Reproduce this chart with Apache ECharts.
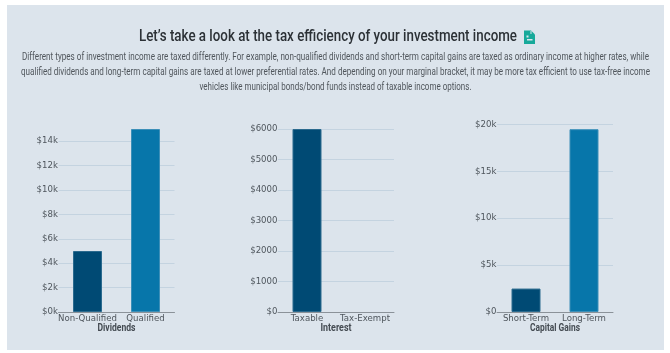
<!DOCTYPE html>
<html><head><meta charset="utf-8">
<style>html,body{margin:0;padding:0;background:#fff}#c{width:670px;height:353px}</style>
<script src="https://cdn.jsdelivr.net/npm/echarts@6/dist/echarts.min.js"></script>
</head><body><div id="c"></div>
<script>
const headline = "Let’s take a look at the tax efficiency of your investment income";
const paragraph = [
 "Different types of investment income are taxed differently. For example, non-qualified dividends and short-term capital gains are taxed as ordinary income at higher rates, while",
 "qualified dividends and long-term capital gains are taxed at lower preferential rates. And depending on your marginal bracket, it may be more tax efficient to use tax-free income",
 "vehicles like municipal bonds/bond funds instead of taxable income options."
];
const dividendCats = ["Non-Qualified","Qualified"];
const dividendVals = [5000,15000];
const interestCats = ["Taxable","Tax-Exempt"];
const interestVals = [6000,0];
const gainsCats = ["Short-Term","Long-Term"];
const gainsVals = [2500,19500];
const groupNames = ["Dividends","Interest","Capital Gains"];
const barColors = ["#004a74","#0776aa"];
const barBorders = ["#2b6a8e","#3c8fb8"];

const AXIS_FONT = "DejaVu Sans";
const panels = [
 {left:58.5, top:129, cats:dividendCats, vals:dividendVals, max:15000, interval:2000, hideMax:true,
  fmt:v=>"$"+(v/1000)+"k"},
 {left:278, top:129, cats:interestCats, vals:interestVals, max:6000, interval:1000, hideMax:false,
  fmt:v=>"$"+v},
 {left:497, top:124.5, cats:gainsCats, vals:gainsVals, max:20000, interval:5000, hideMax:false,
  fmt:v=>v===0?"$0":"$"+(v/1000)+"k"}
];
const ctx = document.createElement('canvas').getContext('2d');
function squeeze(text,font,target){ctx.font=font;return target/ctx.measureText(text).width;}
const nameWidths = [38,31,50];
const chart = echarts.init(document.getElementById('c'),null,{renderer:'canvas'});
chart.setOption({
 animation:false,
 backgroundColor:"#fff",
 grid:panels.map(p=>({left:p.left,top:p.top,width:116,height:312-p.top,containLabel:false})),
 xAxis:panels.map((p,i)=>({
  type:'category',gridIndex:i,data:p.cats,
  axisLine:{lineStyle:{color:'#8b9299',width:1}},axisTick:{show:false},
  axisLabel:{interval:0,margin:2,fontFamily:AXIS_FONT,fontSize:8.6,color:'#4f565d',hideOverlap:false}
 })),
 yAxis:panels.map((p,i)=>({
  type:'value',gridIndex:i,min:0,max:p.max,interval:p.interval,
  axisLine:{show:false},axisTick:{show:false},
  axisLabel:{margin:0.5,padding:[2,0,0,0],fontFamily:AXIS_FONT,fontSize:8.6,color:'#4f565d',formatter:p.fmt,showMaxLabel:!p.hideMax},
  splitLine:{show:true,showMaxLine:!p.hideMax,showMinLine:false,lineStyle:{color:'#c4d3e0',width:1}}
 })),
 series:panels.map((p,i)=>({
  type:'bar',xAxisIndex:i,yAxisIndex:i,barWidth:29,
  data:p.vals.map((v,k)=>({value:v,itemStyle:{color:barColors[k],borderColor:barBorders[k],borderWidth:v>0?1:0}}))
 })),
 graphic:[
  {type:'rect',z:-10,silent:true,shape:{x:7,y:5,width:657,height:345},style:{fill:'#dce4ec'}},
  {type:'text',x:328,y:37,z:10,scaleX:squeeze(headline,'500 17px Roboto',378),style:{text:headline,font:'500 17px Roboto',fill:'#2c3136',align:'center',verticalAlign:'middle'}},
  ...paragraph.map((t,i)=>({type:'text',x:335.5,y:57+15*i,z:10,scaleX:squeeze(t,'10.5px Roboto',[627,629,272][i]),style:{text:t,font:'10.5px Roboto',fill:'#50565c',align:'center',verticalAlign:'middle'}})),
  ...groupNames.map((t,i)=>({type:'text',x:panels[i].left+58,y:328.5,z:10,scaleX:squeeze(t,'bold 10.5px Roboto',nameWidths[i]),style:{text:t,font:'bold 10.5px Roboto',fill:'#444b52',align:'center',verticalAlign:'middle'}})),
  {type:'polygon',z:10,shape:{points:[[524,30.5],[531,30.5],[535,34.5],[535,44],[524,44]]},style:{fill:'#17a99a'}},
  {type:'rect',z:11,shape:{x:527,y:39,width:5.5,height:1.5},style:{fill:'#dce4ec'}},
  {type:'rect',z:11,shape:{x:526.5,y:35.5,width:2,height:2},style:{fill:'#dce4ec'}},
  {type:'rect',z:11,shape:{x:530.5,y:31,width:1,height:3},style:{fill:'#dce4ec'}}
 ]
});
</script></body></html>
